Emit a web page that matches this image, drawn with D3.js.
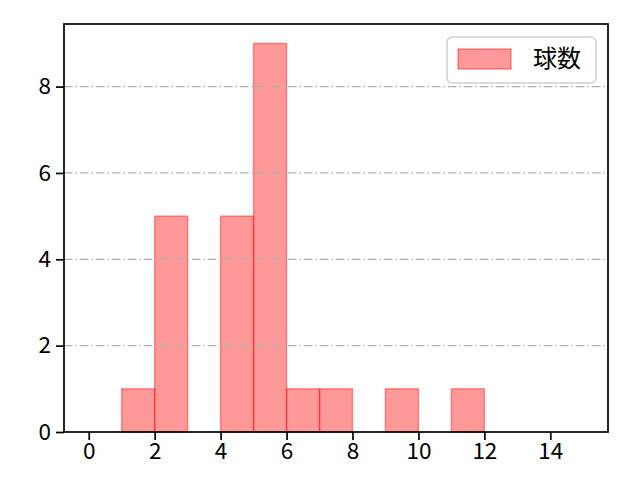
<!DOCTYPE html>
<html>
<head>
<meta charset="utf-8">
<script src="https://cdn.jsdelivr.net/npm/d3@7"></script>
<style>
  body { margin: 0; background: #fff; }
  svg text { font-family: "Noto Sans CJK JP", "Noto Sans", sans-serif; }
  .tick text { font-size: 22.5px; fill: #000; }
</style>
</head>
<body>
<script>
// histogram bins (left edges) and counts
let binStarts = [0, 1, 2, 3, 4, 5, 6, 7, 8, 9, 10, 11, 12, 13, 14];
let counts    = [0, 1, 5, 0, 5, 9, 1, 1, 0, 1, 0, 1, 0, 0, 0];
let xTicks = [0, 2, 4, 6, 8, 10, 12, 14];
let yTicks = [0, 2, 4, 6, 8];
let seriesName = "球数";

let SvgWidth = 640;
let SvgHeight = 480;
let Margin = { Top: 24, Right: 32, Bottom: 48, Left: 64 };
let ChartWidth = SvgWidth - Margin.Left - Margin.Right;
let ChartHeight = SvgHeight - Margin.Top - Margin.Bottom;

let Svg = d3.select("body").append("svg")
    .attr("width", SvgWidth)
    .attr("height", SvgHeight);

let ChartGroup = Svg.append("g")
    .attr("transform", `translate(${Margin.Left},${Margin.Top})`);

let x = d3.scaleLinear().domain([-0.75, 15.75]).range([0, ChartWidth]);
let y = d3.scaleLinear().domain([0, 9.45]).range([ChartHeight, 0]);

// bars
let bars = binStarts.map((s, i) => ({ x0: s, x1: s + 1, n: counts[i] })).filter(d => d.n > 0);
ChartGroup.selectAll(".bar")
    .data(bars)
    .enter().append("rect")
    .attr("x", d => x(d.x0))
    .attr("y", d => y(d.n))
    .attr("width", d => x(d.x1) - x(d.x0))
    .attr("height", d => y(0) - y(d.n))
    .attr("fill", "#ff0000")
    .attr("fill-opacity", 0.4)
    .attr("stroke", "#ff0000")
    .attr("stroke-opacity", 0.4)
    .attr("stroke-width", 1.5);

// grid (y only, dash-dot), drawn above bars
ChartGroup.selectAll(".grid")
    .data(yTicks.filter(d => d > 0))
    .enter().append("line")
    .attr("x1", 0).attr("x2", ChartWidth)
    .attr("y1", d => y(d)).attr("y2", d => y(d))
    .attr("stroke", "#b0b0b0")
    .attr("stroke-width", 1.3)
    .attr("stroke-dasharray", "8.5,3,1.5,3");

// axes
let BottomAxis = d3.axisBottom(x).tickValues(xTicks).tickSize(8).tickPadding(3);
let LeftAxis = d3.axisLeft(y).tickValues(yTicks).tickSize(8).tickPadding(5);

let gx = ChartGroup.append("g")
    .attr("transform", `translate(0,${ChartHeight})`)
    .call(BottomAxis);
let gy = ChartGroup.append("g").call(LeftAxis);

[gx, gy].forEach(g => {
    g.select(".domain").remove();
    g.selectAll(".tick line").attr("stroke", "#000").attr("stroke-width", 1.7);
});

// frame
ChartGroup.append("rect")
    .attr("width", ChartWidth)
    .attr("height", ChartHeight)
    .attr("fill", "none")
    .attr("stroke", "#000")
    .attr("stroke-width", 1.7);

// legend
let Legend = ChartGroup.append("g")
    .attr("transform", `translate(383,13)`);
Legend.append("rect")
    .attr("width", 149).attr("height", 46)
    .attr("rx", 5)
    .attr("fill", "#fff").attr("fill-opacity", 0.8)
    .attr("stroke", "#d0d0d0")
    .attr("stroke-width", 1.5);
Legend.append("rect")
    .attr("x", 11).attr("y", 12)
    .attr("width", 53).attr("height", 20)
    .attr("fill", "#ff0000").attr("fill-opacity", 0.4)
    .attr("stroke", "#ff0000").attr("stroke-opacity", 0.4)
    .attr("stroke-width", 1.5);
Legend.append("text")
    .attr("x", 86).attr("y", 22)
    .attr("dy", "0.35em")
    .style("font-size", "24px")
    .text(seriesName);
</script>
</body>
</html>
